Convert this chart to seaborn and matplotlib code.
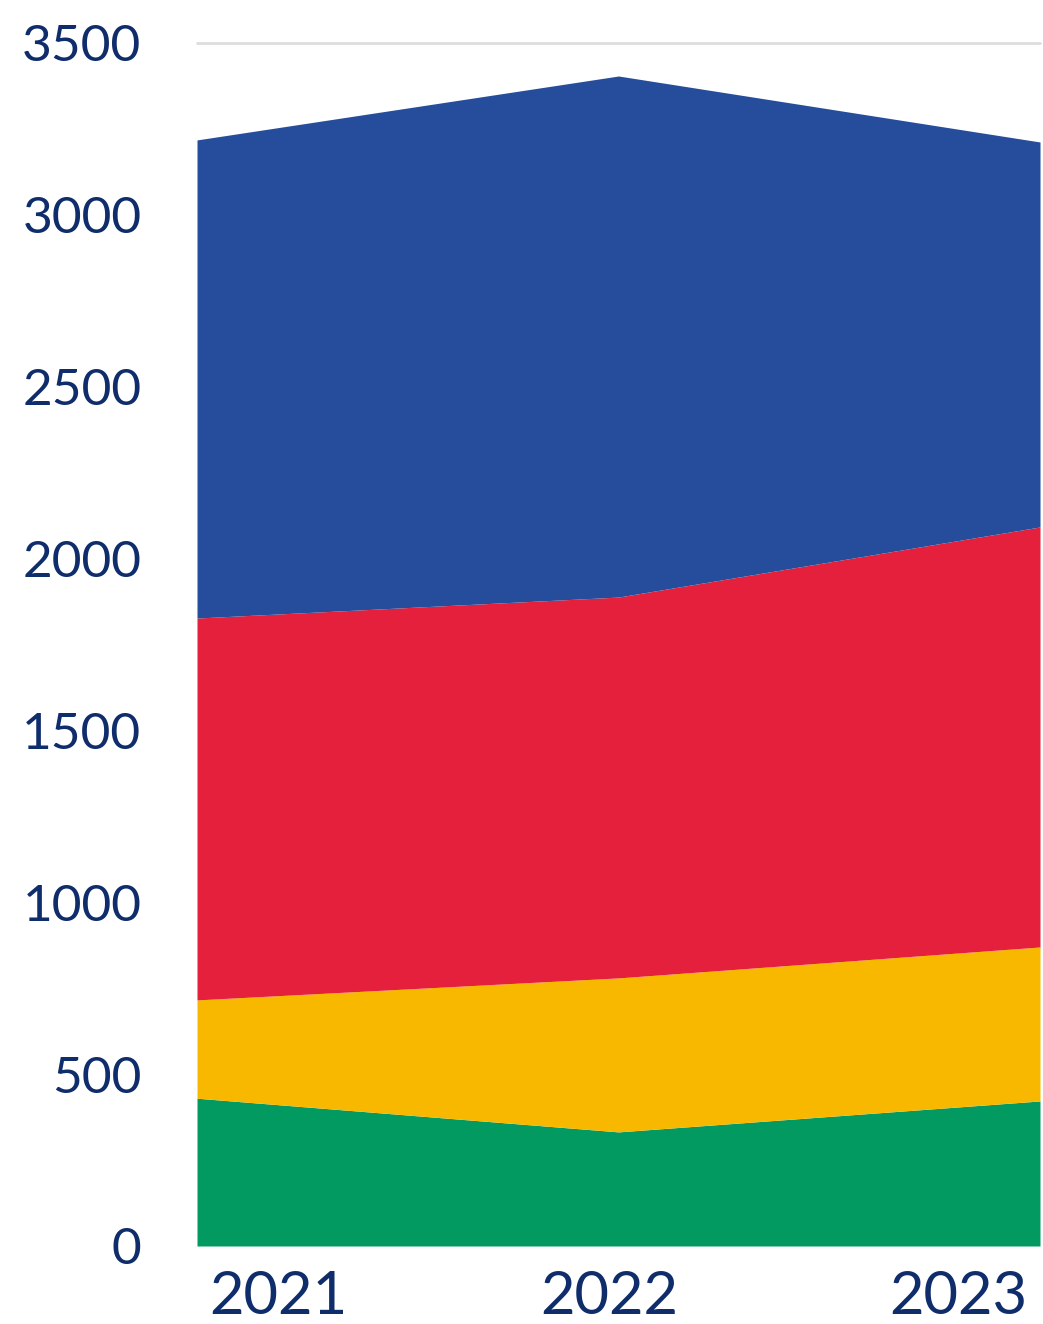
import matplotlib
matplotlib.use("Agg")
import matplotlib.pyplot as plt
import matplotlib.transforms as mtransforms
import seaborn as sns
import numpy as np

years = ["2021", "2022", "2023"]
green = [430, 332, 422]
yellow = [286, 448, 448]
red = [1111, 1108, 1222]
blue = [1391, 1516, 1120]
yticks = [0, 500, 1000, 1500, 2000, 2500, 3000, 3500]

colors = ["#039A62", "#F9B800", "#E5203C", "#254D9B"]
text_color = "#0F2C6B"

sns.set_theme(style="white")
plt.rcParams["font.family"] = ["Lato", "DejaVu Sans"]

fig = plt.figure(figsize=(10.43, 13.24), dpi=100)
ax = fig.add_axes([197/1043, 1 - 1246/1324, (1040 - 197)/1043, (1246 - 43)/1324])

x = np.arange(len(years))
ax.stackplot(x, green, yellow, red, blue, colors=colors, linewidth=0, zorder=2)

ax.set_xlim(0, len(years) - 1)
ax.set_ylim(0, 3500)
ax.set_yticks(yticks)
ax.set_yticklabels([str(v) for v in yticks])
ax.axhline(yticks[-1], color="#DDDDDD", linewidth=2, zorder=0, clip_on=False)
ax.set_xticks(x)
ax.set_xticklabels(years)

for s in ax.spines.values():
    s.set_visible(False)

ax.tick_params(axis="y", length=0, pad=40, labelsize=37, labelcolor=text_color)
ax.tick_params(axis="x", length=0, pad=17, labelsize=43, labelcolor=text_color)

labels = ax.get_xticklabels()
has = ["left", "center", "right"]
offs = [12, -9, -13]
for lab, ha, off in zip(labels, has, offs):
    lab.set_horizontalalignment(ha)
    lab.set_transform(lab.get_transform() + mtransforms.ScaledTranslation(off/100, 0, fig.dpi_scale_trans))

fig.savefig("out.png", dpi=100, facecolor="white")
